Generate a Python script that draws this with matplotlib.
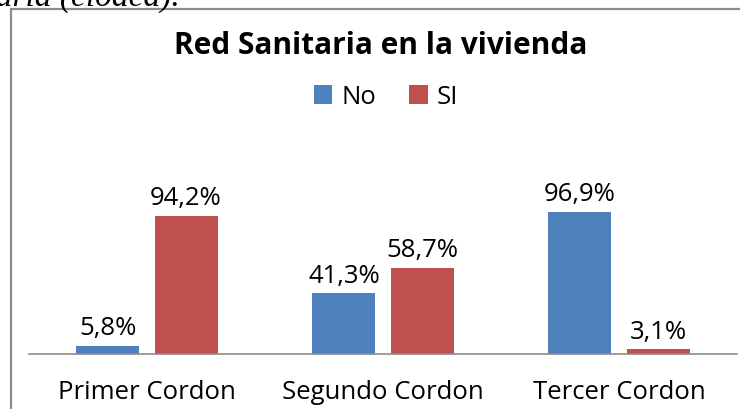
import numpy as np
import matplotlib
matplotlib.use('Agg')
import matplotlib.pyplot as plt
from matplotlib.patches import Rectangle

categories = ['Primer Cordon', 'Segundo Cordon', 'Tercer Cordon']
no_vals = [5.8, 41.3, 96.9]
si_vals = [94.2, 58.7, 3.1]
series_names = ['No', 'SI']

BLUE = '#4F81BD'
RED = '#C0504D'
FONT = ['Open Sans', 'DejaVu Sans']

plt.rcParams['font.family'] = FONT

W, H = 740, 410
fig = plt.figure(figsize=(W / 100, H / 100), dpi=100)

# text of the surrounding document, cut off at the top
fig.text(180 / W, (H - 6) / H, 'Sanitaria (cloaca).', ha='right', va='baseline',
         family='Liberation Serif', style='italic', fontsize=24)

# chart frame
fig.patches.append(Rectangle((11 / W, -0.1), 1.0, (H - 10) / H + 0.1,
                             transform=fig.transFigure, fill=False,
                             edgecolor='#8c8c8c', lw=1.6))

ax = fig.add_axes([29 / W, 55 / H, 708 / W, 146.5 / H])
x = np.arange(len(categories))
bw = 0.267
gap = 0.064
off = (bw + gap) / 2
b1 = ax.bar(x - off, no_vals, bw, color=BLUE, label=series_names[0])
b2 = ax.bar(x + off, si_vals, bw, color=RED, label=series_names[1])

for bars, vals in ((b1, no_vals), (b2, si_vals)):
    for b, v in zip(bars, vals):
        ax.text(b.get_x() + b.get_width() / 2, v + 4, ('%.1f%%' % v).replace('.', ','),
                ha='center', va='bottom', fontsize=18.5, clip_on=False)

ax.set_xlim(-0.5, 2.5)
ax.set_ylim(0, 100)
ax.set_yticks([])
ax.set_xticks(x)
ax.set_xticklabels(categories, fontsize=18.5)
ax.tick_params(axis='x', length=0, pad=18)
for s in ['top', 'right', 'left']:
    ax.spines[s].set_visible(False)
ax.spines['bottom'].set_color('#8c8c8c')
ax.spines['bottom'].set_linewidth(1.2)

fig.text(381 / W, (H - 46) / H, 'Red Sanitaria en la vivienda', ha='center', va='center',
         fontsize=21.5, fontweight='bold')
fig.legend(handles=[b1, b2], loc='center', bbox_to_anchor=(386 / W, (H - 98) / H),
           ncol=2, frameon=False, fontsize=18.5, handlelength=0.72, handleheight=0.72,
           handletextpad=0.35, columnspacing=1.3)

fig.savefig('out.png', dpi=100)
